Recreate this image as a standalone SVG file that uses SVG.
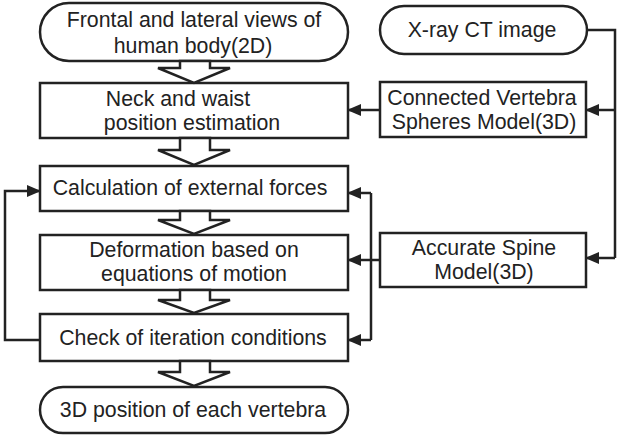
<svg xmlns="http://www.w3.org/2000/svg" width="617" height="438" viewBox="0 0 617 438">
<style>
.s{fill:#fff;stroke:#222;stroke-width:2.5}
.t{font-family:"Liberation Sans",Arial,sans-serif;font-size:21.3px;fill:#222;text-anchor:middle}
.c{fill:none;stroke:#222;stroke-width:2.5}
</style>
<defs>
<marker id="ah" markerUnits="userSpaceOnUse" markerWidth="14" markerHeight="12" refX="13" refY="6" orient="auto">
<path d="M0,0 L14,6 L0,12 Z" fill="#222"/>
</marker>
</defs>
<rect width="617" height="438" fill="#fff"/>
<g id="n1"><rect class="s" x="40" y="3" width="308" height="58" rx="29"/>
<text class="t" x="194" y="27">Frontal and lateral views of</text>
<text class="t" x="193" y="53">human body(2D)</text></g>
<g id="n2"><rect class="s" x="40" y="83" width="308" height="55"/>
<text class="t" x="178" y="106">Neck and waist</text>
<text class="t" x="192" y="130">position estimation</text></g>
<g id="n3"><rect class="s" x="40" y="166" width="308" height="45"/>
<text class="t" x="190" y="195">Calculation of external forces</text></g>
<g id="n4"><rect class="s" x="40" y="235" width="308" height="55"/>
<text class="t" x="194" y="257">Deformation based on</text>
<text class="t" x="194" y="281">equations of motion</text></g>
<g id="n5"><rect class="s" x="40" y="314" width="308" height="47"/>
<text class="t" x="193" y="345">Check of iteration conditions</text></g>
<g id="n6"><rect class="s" x="40" y="387" width="308" height="46" rx="23"/>
<text class="t" x="193" y="417">3D position of each vertebra</text></g>
<g id="n7"><rect class="s" x="380" y="6" width="207" height="48" rx="24"/>
<text class="t" x="482" y="37">X-ray CT image</text></g>
<g id="n8"><rect class="s" x="380" y="82" width="206" height="55"/>
<text class="t" x="482" y="105">Connected Vertebra</text>
<text class="t" x="484" y="129">Spheres Model(3D)</text></g>
<g id="n9"><rect class="s" x="380" y="233" width="206" height="54"/>
<text class="t" x="484" y="255">Accurate Spine</text>
<text class="t" x="484" y="279">Model(3D)</text></g>
<g id="connectors">
<polygon class="s" points="180,61 180,68 158,68 194,83 230,68 210,68 210,61"/>
<polygon class="s" points="180,138 180,150 158,150 194,165 230,150 210,150 210,138"/>
<polygon class="s" points="180,211 180,220 158,220 194,234 230,220 210,220 210,211"/>
<polygon class="s" points="180,290 180,300 158,300 194,313 230,300 210,300 210,290"/>
<polygon class="s" points="180,361 180,372 158,372 194,386 230,372 210,372 210,361"/>
<path class="c" d="M380,110 H348" marker-end="url(#ah)"/>
<path class="c" d="M380,260 H348" marker-end="url(#ah)"/>
<path class="c" d="M587,30 H615 V258"/>
<path class="c" d="M615,110 H586" marker-end="url(#ah)"/>
<path class="c" d="M615,258 H586" marker-end="url(#ah)"/>
<path class="c" d="M371,193 V340"/>
<path class="c" d="M371,193 H348" marker-end="url(#ah)"/>
<path class="c" d="M371,340 H348" marker-end="url(#ah)"/>
<path class="c" d="M40,340 H5 V191 H40" marker-end="url(#ah)"/>
</g>
</svg>
